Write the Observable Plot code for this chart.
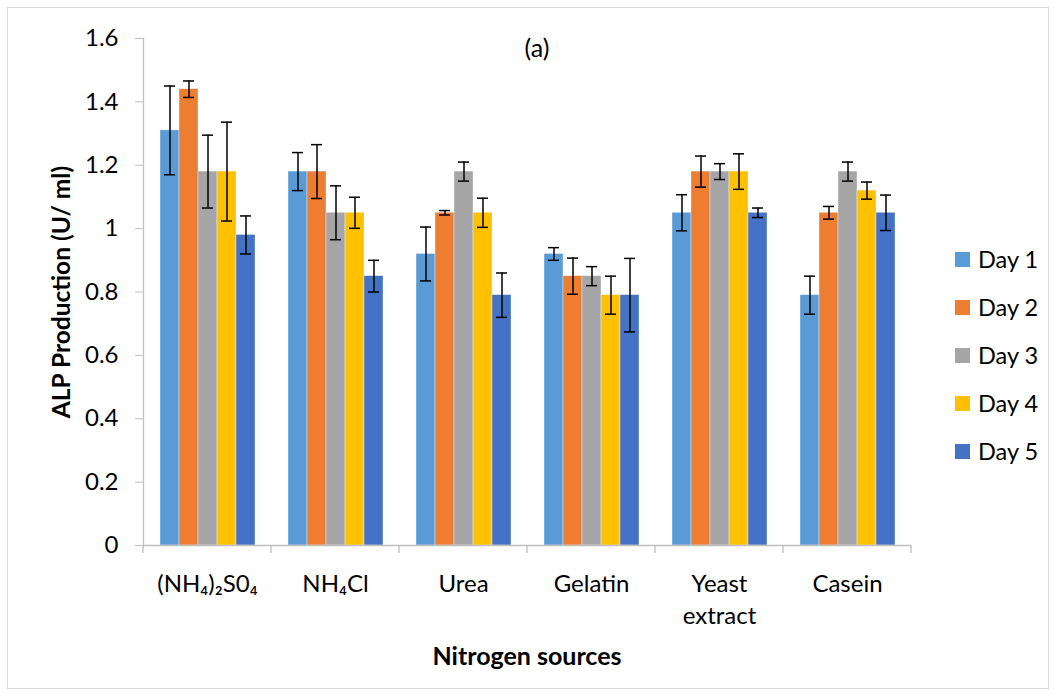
<!DOCTYPE html>
<html>
<head>
<meta charset="utf-8">
<script src="https://cdn.jsdelivr.net/npm/d3@7"></script>
<script src="https://cdn.jsdelivr.net/npm/@observablehq/plot@0.6"></script>
<style>
  body { margin: 0; background: #fff; font-family: Lato, "Open Sans", sans-serif; }
  #wrap { position: relative; width: 1057px; height: 696px; overflow: hidden; }
  #wrap svg { position: absolute; left: 0; top: 0; }
  .border { position: absolute; left: 7px; top: 7px; width: 1042px; height: 682px; border: 1px solid #d9d9d9; box-sizing: border-box; }
  .label { position: absolute; color: #000; white-space: nowrap; font-size: 24px; }
  .bold { font-weight: bold; }
  .legend-row { position: absolute; left: 955px; height: 30px; display: flex; align-items: center; font-size: 23.5px; color: #000; }
  .legend-row span.sw { width: 15px; height: 15px; margin-right: 8px; display: inline-block; }
</style>
</head>
<body>
<div id="wrap"><div class="border"></div></div>
<script>
// Nitrogen sources on the x axis
const sources = ["(NH₄)₂S0₄", "NH₄Cl", "Urea", "Gelatin", "Yeast extract", "Casein"];
const days = ["Day 1", "Day 2", "Day 3", "Day 4", "Day 5"];
const dayColors = ["#5B9BD5", "#ED7D31", "#A5A5A5", "#FFC000", "#4472C4"];

// ALP production (U/ml) per source, one array per day
const day1 = [1.31, 1.18, 0.92, 0.92, 1.05, 0.79];
const day2 = [1.44, 1.18, 1.05, 0.85, 1.18, 1.05];
const day3 = [1.18, 1.05, 1.18, 0.85, 1.18, 1.18];
const day4 = [1.18, 1.05, 1.05, 0.79, 1.18, 1.12];
const day5 = [0.98, 0.85, 0.79, 0.79, 1.05, 1.05];

// Error bar half-widths (±)
const err1 = [0.14, 0.06, 0.085, 0.02, 0.057, 0.06];
const err2 = [0.026, 0.085, 0.007, 0.057, 0.049, 0.02];
const err3 = [0.115, 0.085, 0.03, 0.03, 0.025, 0.03];
const err4 = [0.156, 0.049, 0.046, 0.06, 0.056, 0.027];
const err5 = [0.06, 0.05, 0.07, 0.116, 0.015, 0.056];

const yTicks = [0, 0.2, 0.4, 0.6, 0.8, 1, 1.2, 1.4, 1.6];

const values = [day1, day2, day3, day4, day5];
const errors = [err1, err2, err3, err4, err5];
const rows = sources.flatMap((s, i) => days.map((d, j) => ({
  source: s, day: d, value: values[j][i], err: errors[j][i]
})));

const chart = Plot.plot({
  width: 1057,
  height: 696,
  marginLeft: 142,
  marginRight: 145,
  marginTop: 38,
  marginBottom: 151,
  style: { fontFamily: "Lato, 'Open Sans', sans-serif", fontSize: "24px", color: "#000", background: "transparent", overflow: "visible" },
  fx: { domain: sources, padding: 0 },
  x: { domain: days, paddingInner: 0, paddingOuter: 0.76, axis: null },
  y: { domain: [0, 1.6] },
  color: { domain: days, range: dayColors },
  marks: [
    Plot.barY(rows, { fx: "source", x: "day", y: "value", fill: "day", stroke: "#fff", strokeWidth: 0.6, strokeOpacity: 0.6 }),
    Plot.ruleX(rows, { fx: "source", x: "day", y1: d => d.value - d.err, y2: d => d.value + d.err, stroke: "#000", strokeWidth: 1.5 }),
    Plot.tickY(rows, { fx: "source", x: "day", y: d => d.value + d.err, insetLeft: 4, insetRight: 4, stroke: "#000", strokeWidth: 1.5 }),
    Plot.tickY(rows, { fx: "source", x: "day", y: d => d.value - d.err, insetLeft: 4, insetRight: 4, stroke: "#000", strokeWidth: 1.5 }),
    Plot.ruleY([0], { stroke: "#bfbfbf", strokeWidth: 1.3 }),
    Plot.frame({ anchor: "left", facetAnchor: "left", stroke: "#bfbfbf", strokeWidth: 1.3 }),
    Plot.axisY({ ticks: yTicks, tickFormat: d => String(d), tickSize: 8, tickPadding: 17, stroke: "#bfbfbf", label: null, fill: "#000" }),
    Plot.axisFx({ anchor: "bottom", tickSize: 0, tickPadding: 23, label: null, lineHeight: 1.36,
      tickFormat: d => d.replace(" ", "\n"), fill: "#000" })
  ]
});

const wrap = document.getElementById("wrap");
wrap.appendChild(chart);

// Category boundary ticks below the x axis, positioned from the fx scale
const fx = chart.scale("fx");
const yScale = chart.scale("y");
const y0 = yScale.apply(0);
const edges = sources.map(s => fx.apply(s)).concat([fx.apply(sources[sources.length - 1]) + fx.bandwidth]);
d3.select(chart).append("g")
  .attr("stroke", "#bfbfbf").attr("stroke-width", 1.3)
  .selectAll("line").data(edges).join("line")
  .attr("x1", d => d).attr("x2", d => d)
  .attr("y1", y0).attr("y2", y0 + 8);

// Text around the plot
function addLabel(text, css, cls) {
  const el = document.createElement("div");
  el.className = "label " + (cls || "");
  el.textContent = text;
  Object.assign(el.style, css);
  wrap.appendChild(el);
  return el;
}
addLabel("(a)", { left: "537px", top: "47px", transform: "translate(-50%, -50%)", fontSize: "25px" });
addLabel("Nitrogen sources", { left: "527px", top: "655px", transform: "translate(-50%, -50%)", fontSize: "25px" }, "bold");
addLabel("ALP Production (U/ ml)", { left: "60px", top: "292px", transform: "translate(-50%, -50%) rotate(-90deg)", fontSize: "24.5px" }, "bold");

// Legend
const legendCenters = [259, 307, 355, 403, 451];
days.forEach((d, i) => {
  const row = document.createElement("div");
  row.className = "legend-row";
  row.style.top = (legendCenters[i] - 15) + "px";
  const sw = document.createElement("span");
  sw.className = "sw";
  sw.style.background = dayColors[i];
  row.appendChild(sw);
  row.appendChild(document.createTextNode(d));
  wrap.appendChild(row);
});
</script>
</body>
</html>
